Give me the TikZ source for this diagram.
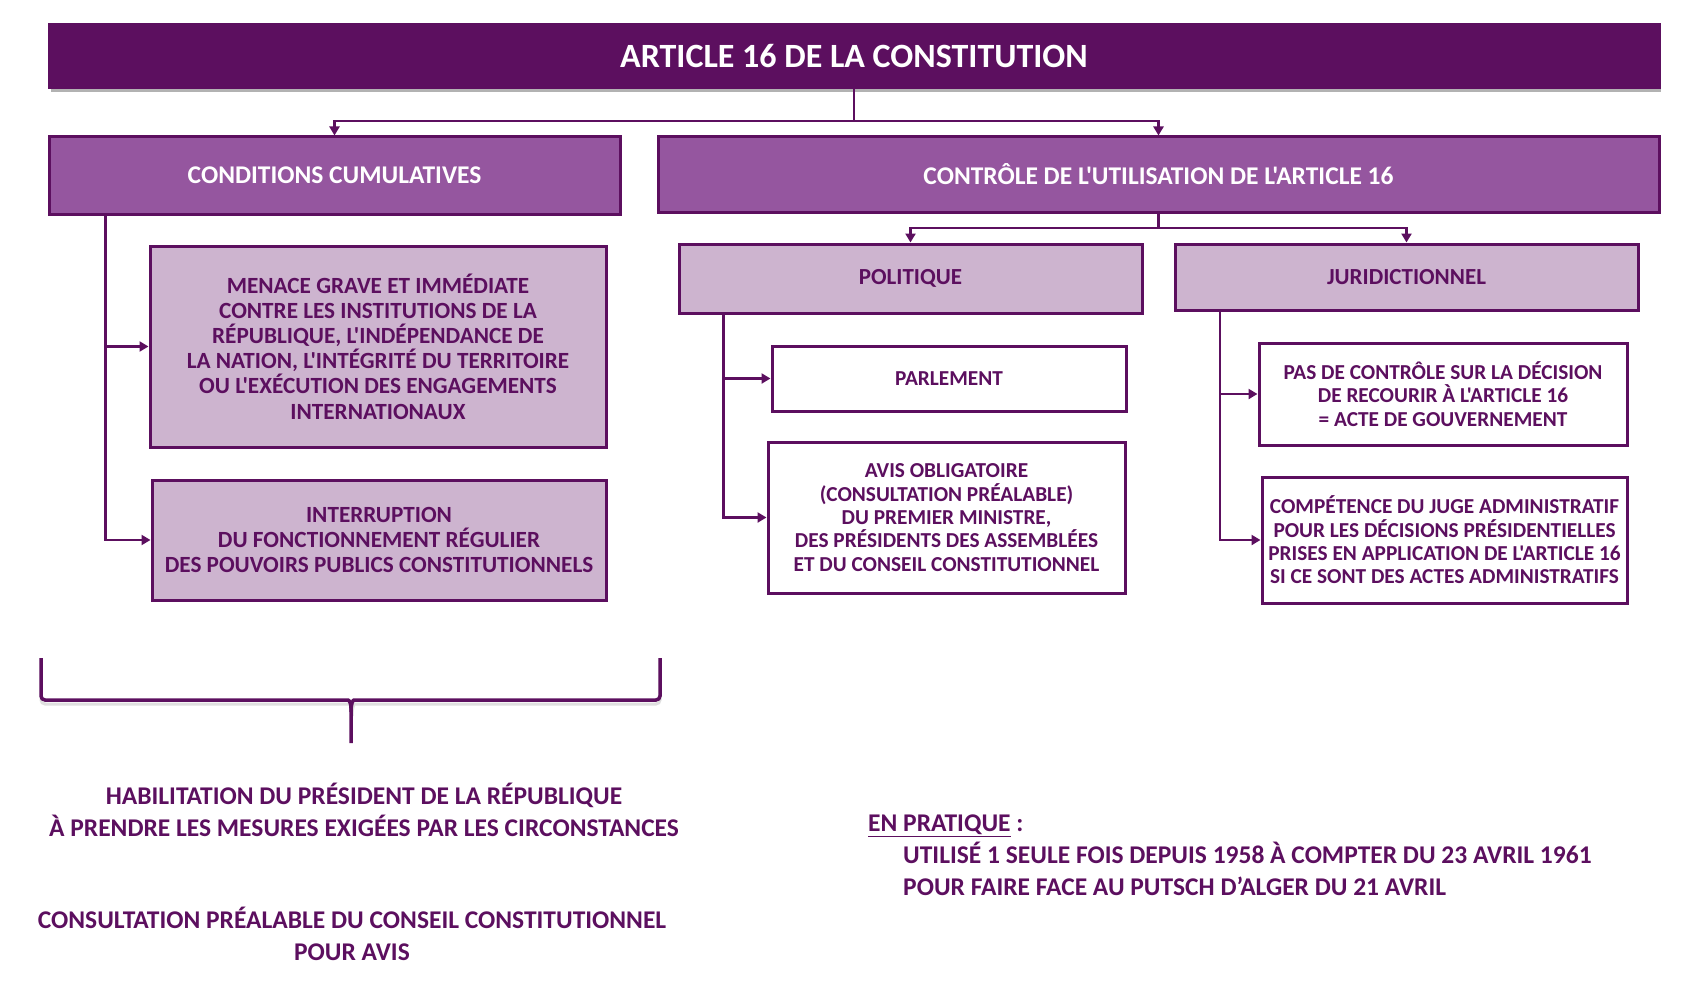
\documentclass[tikz,border=0pt]{standalone}
\usepackage{fontspec}
\setmainfont{Carlito}[Ligatures=TeXOff]
\usetikzlibrary{arrows.meta,shadows}

\definecolor{prune}{HTML}{5C0F5F}
\definecolor{mauve}{HTML}{95569F}
\definecolor{lilas}{HTML}{CDB4CF}

\tikzset{
  boite/.style={rectangle, draw=prune, line width=3pt, align=center, inner sep=0pt},
  titre/.style={boite, fill=prune, text=white, font=\fontsize{34}{38}\selectfont\bfseries,
    drop shadow={shadow xshift=2pt, shadow yshift=-4pt, fill=black!30, opacity=1}},
  rubrique/.style={boite, fill=mauve, text=white, font=\fontsize{25.5}{30}\selectfont\bfseries},
  sousrub/.style={boite, fill=lilas, text=prune, font=\fontsize{23}{27}\selectfont\bfseries},
  cadre/.style={boite, fill=white, text=prune, font=\fontsize{21.3}{23.3}\selectfont\bfseries},
  cadremauve/.style={boite, fill=lilas, text=prune, font=\fontsize{23.2}{25.2}\selectfont\bfseries},
  texte/.style={align=center, inner sep=0pt, text=prune, font=\fontsize{25.5}{32}\selectfont\bfseries},
  fleche/.style={draw=prune, line width=2.5pt, -{Triangle[width=10pt,length=9pt]}},
}

\begin{document}
\begin{tikzpicture}[x=1pt,y=-1pt]
  \useasboundingbox (0,0) rectangle (1702,1006);

  \node[titre, minimum width=1610pt, minimum height=63pt] (art) at (854,56.5) {ARTICLE 16 DE LA CONSTITUTION};

  \node[rubrique, minimum width=571pt, minimum height=77pt] (cond) at (334.5,175.5) {CONDITIONS CUMULATIVES};
  \node[rubrique, minimum width=1001pt, minimum height=75pt] (ctrl) at (1158.5,174.5) {CONTRÔLE DE L'UTILISATION DE L'ARTICLE 16};

  \node[cadremauve, minimum width=456pt, minimum height=201pt] (menace) at (378,346.5)
    {MENACE GRAVE ET IMMÉDIATE\\CONTRE LES INSTITUTIONS DE LA\\RÉPUBLIQUE, L'INDÉPENDANCE DE\\LA NATION, L'INTÉGRITÉ DU TERRITOIRE\\OU L'EXÉCUTION DES ENGAGEMENTS\\INTERNATIONAUX};
  \node[cadremauve, minimum width=454pt, minimum height=120pt] (interr) at (379,540)
    {INTERRUPTION\\DU FONCTIONNEMENT RÉGULIER\\DES POUVOIRS PUBLICS CONSTITUTIONNELS};

  \node[sousrub, minimum width=463pt, minimum height=69pt] (pol) at (910.5,278.5) {POLITIQUE};
  \node[sousrub, minimum width=463pt, minimum height=66pt] (jur) at (1406.5,277) {JURIDICTIONNEL};

  \node[cadre, minimum width=354pt, minimum height=65pt] (parl) at (949,378.5) {PARLEMENT};
  \node[cadre, minimum width=357pt, minimum height=151pt] (avis) at (946.5,517.5)
    {AVIS OBLIGATOIRE\\(CONSULTATION PRÉALABLE)\\DU PREMIER MINISTRE,\\DES PRÉSIDENTS DES ASSEMBLÉES\\ET DU CONSEIL CONSTITUTIONNEL};
  \node[cadre, minimum width=368pt, minimum height=102pt] (pas) at (1443,394)
    {PAS DE CONTRÔLE SUR LA DÉCISION\\DE RECOURIR À L'ARTICLE 16\\= ACTE DE GOUVERNEMENT};
  \node[cadre, minimum width=365pt, minimum height=126pt] (comp) at (1444.5,540)
    {COMPÉTENCE DU JUGE ADMINISTRATIF\\POUR LES DÉCISIONS PRÉSIDENTIELLES\\PRISES EN APPLICATION DE L'ARTICLE 16\\SI CE SONT DES ACTES ADMINISTRATIFS};

  \coordinate (j1) at (854,121);
  \coordinate (j2) at (1158.5,228);
  \coordinate (c1) at ([xshift=58pt]cond.south west);
  \coordinate (p1) at ([xshift=46pt]pol.south west);
  \coordinate (r1) at ([xshift=46.5pt]jur.south west);

  \draw[fleche] (art.south) -- (j1) -| (cond.north);
  \draw[fleche] (j1) -| (ctrl.north);
  \draw[fleche] (ctrl.south) -- (j2) -| (pol.north);
  \draw[fleche] (j2) -| (jur.north);

  \draw[fleche] (c1) |- (menace.west);
  \draw[fleche] (c1) |- (interr.west);
  \draw[fleche] (p1) |- (parl.west);
  \draw[fleche] (p1) |- (avis.west);
  \draw[fleche] (r1) |- (pas.west);
  \draw[fleche] (r1) |- (comp.west);

  % accolade
  \coordinate (acc-g) at (41,658);
  \coordinate (acc-d) at (660,658);
  \coordinate (acc-p) at (351,743);
  \begin{scope}[shift={(1,4)}, gray!25, line width=3pt]
    \draw[rounded corners=4pt] (acc-g) |- (344,700) .. controls (349,700) and (351,703) .. (351,712);
    \draw[rounded corners=4pt] (acc-d) |- (358,700) .. controls (353,700) and (351,703) .. (351,712);
  \end{scope}
  \draw[prune, line width=3.5pt, rounded corners=4pt] (acc-g) |- (344,700) .. controls (349,700) and (351,703) .. (351,712) -- (acc-p);
  \draw[prune, line width=3.5pt, rounded corners=4pt] (acc-d) |- (358,700) .. controls (353,700) and (351,703) .. (351,712);

  \node[texte] (habil) at (364,810) {HABILITATION DU PRÉSIDENT DE LA RÉPUBLIQUE\\À PRENDRE LES MESURES EXIGÉES PAR LES CIRCONSTANCES};
  \node[texte] (consult) at (352,933.5) {CONSULTATION PRÉALABLE DU CONSEIL CONSTITUTIONNEL\\POUR AVIS};
  \node[texte, align=left, anchor=west] (pratique) at (868,855)
    {\underline{EN PRATIQUE} :\\\hspace*{35pt}UTILISÉ 1 SEULE FOIS DEPUIS 1958 À COMPTER DU 23 AVRIL 1961\\\hspace*{35pt}POUR FAIRE FACE AU PUTSCH D’ALGER DU 21 AVRIL};
\end{tikzpicture}
\end{document}
